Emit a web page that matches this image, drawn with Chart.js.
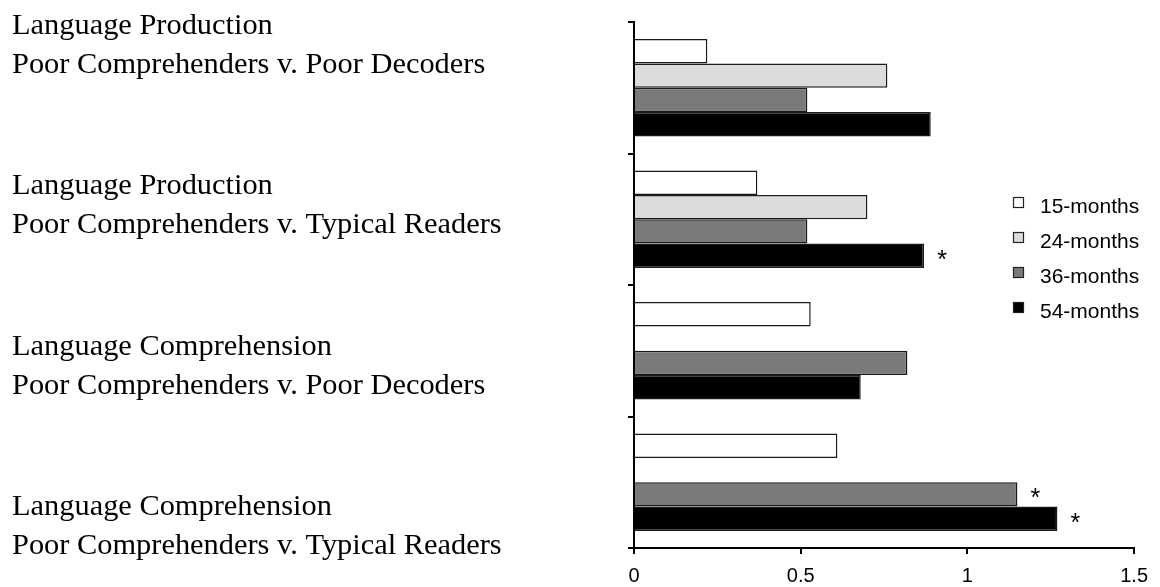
<!DOCTYPE html>
<html>
<head>
<meta charset="utf-8">
<script src="https://cdn.jsdelivr.net/npm/chart.js@4"></script>
<style>
  html, body { margin: 0; padding: 0; background: #fff; }
  #wrap { width: 1160px; height: 587px; }
</style>
</head>
<body>
<div id="wrap"><canvas id="chart" width="1160" height="587"></canvas></div>
<script>
// ===== DATA =====
const categories = [
  ['Language Production', 'Poor Comprehenders v. Poor Decoders'],
  ['Language Production', 'Poor Comprehenders v. Typical Readers'],
  ['Language Comprehension', 'Poor Comprehenders v. Poor Decoders'],
  ['Language Comprehension', 'Poor Comprehenders v. Typical Readers'],
];
const seriesNames = ['15-months', '24-months', '36-months', '54-months'];
const months15 = [0.22, 0.37, 0.53, 0.61];
const months24 = [0.76, 0.70, null, null];
const months36 = [0.52, 0.52, 0.82, 1.15];
const months54 = [0.89, 0.87, 0.68, 1.27];
// significance markers (*) per series
const sig15 = [false, false, false, false];
const sig24 = [false, false, false, false];
const sig36 = [false, false, false, true];
const sig54 = [false, true, false, true];
const xTicks = [0, 0.5, 1, 1.5];

const fills = ['#ffffff', '#dcdcdc', '#7a7a7a', '#000000'];
const seriesData = [months15, months24, months36, months54];
const seriesSig = [sig15, sig24, sig36, sig54];

const SERIF = "'Liberation Serif', 'Times New Roman', serif";
const SANS = "'Liberation Sans', Arial, sans-serif";

// ===== PLUGIN: labels kiri, tanda bintang, legend =====
const extrasPlugin = {
  id: 'extras',
  afterDatasetsDraw(chart) {
    const ctx = chart.ctx;
    const area = chart.chartArea;

    // asterisks
    ctx.save();
    ctx.fillStyle = '#000';
    ctx.font = '25px ' + SANS;
    ctx.textAlign = 'center';
    ctx.textBaseline = 'alphabetic';
    chart.data.datasets.forEach((ds, di) => {
      const meta = chart.getDatasetMeta(di);
      meta.data.forEach((bar, i) => {
        if (seriesSig[di][i] && ds.data[i] != null) {
          ctx.fillText('*', bar.x + 18, bar.y + 12);
        }
      });
    });
    ctx.restore();

    // left labels (two lines each)
    ctx.save();
    ctx.fillStyle = '#000';
    ctx.font = '30.4px ' + SERIF;
    ctx.textAlign = 'left';
    ctx.textBaseline = 'alphabetic';
    const step = (area.height - 45) / (categories.length - 1);
    categories.forEach((lines, i) => {
      const base = area.top + 12 + i * step;
      lines.forEach((t, j) => ctx.fillText(t, 12, base + j * 39));
    });
    ctx.restore();

    // legend
    ctx.save();
    ctx.font = '21px ' + SANS;
    ctx.textAlign = 'left';
    ctx.textBaseline = 'middle';
    seriesNames.forEach((name, i) => {
      const cy = area.top + 185 + i * 35;
      ctx.fillStyle = fills[i];
      ctx.fillRect(1013.5, cy - 9.5, 10, 10);
      ctx.strokeStyle = '#222';
      ctx.lineWidth = 1.2;
      ctx.strokeRect(1013.5, cy - 9.5, 10, 10);
      ctx.fillStyle = '#000';
      ctx.fillText(name, 1040, cy);
    });
    ctx.restore();
  },
};

// ===== CHART =====
const ctx = document.getElementById('chart').getContext('2d');
const chart = new Chart(ctx, {
  type: 'bar',
  data: {
    labels: categories.map(c => c.join(' ')),
    datasets: seriesNames.map((name, i) => ({
      label: name,
      data: seriesData[i],
      backgroundColor: fills[i],
      borderColor: '#1a1a1a',
      borderWidth: 1.5,
      borderSkipped: 'start',
      categoryPercentage: 0.74,
      barPercentage: 1.0,
    })),
  },
  options: {
    indexAxis: 'y',
    responsive: false,
    animation: false,
    layout: { padding: { left: 628, right: 22, top: 22, bottom: -11 } },
    plugins: {
      legend: { display: false },
      tooltip: { enabled: false },
    },
    scales: {
      x: {
        type: 'linear',
        min: xTicks[0],
        max: xTicks[xTicks.length - 1],
        afterBuildTicks: (axis) => { axis.ticks = xTicks.map(v => ({ value: v })); },
        ticks: {
          font: { family: SANS, size: 20, lineHeight: 1.0 },
          color: '#000',
          padding: 12,
          maxRotation: 0,
          callback: (v) => String(v),
        },
        grid: { drawOnChartArea: false, drawTicks: true, tickLength: 6, color: '#000', lineWidth: 2 },
        border: { display: true, color: '#000', width: 2 },
      },
      y: {
        type: 'category',
        ticks: { display: false },
        grid: { offset: true, drawOnChartArea: false, drawTicks: true, tickLength: 6, color: '#000', lineWidth: 2 },
        border: { display: true, color: '#000', width: 2 },
      },
    },
  },
  plugins: [extrasPlugin],
});
</script>
</body>
</html>
